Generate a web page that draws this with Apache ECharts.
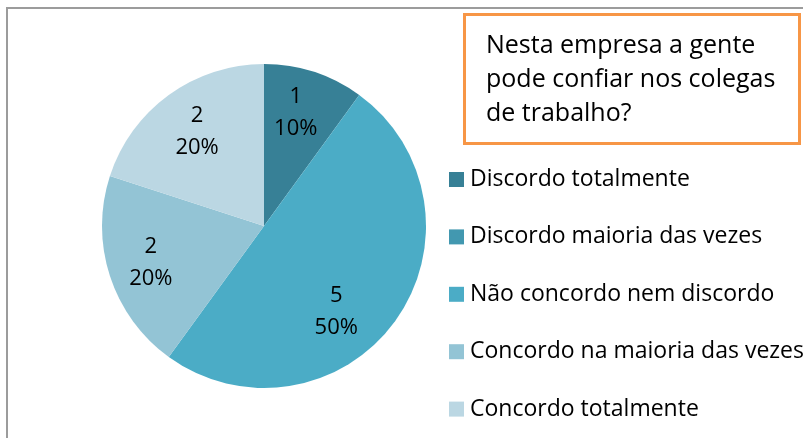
<!DOCTYPE html>
<html><head><meta charset="utf-8">
<script src="https://cdn.jsdelivr.net/npm/echarts@6/dist/echarts.min.js"></script>
<style>html,body{margin:0;padding:0;background:#fff}#c{width:803px;height:438px}</style>
</head><body><div id="c"></div>
<script>
const categories = ["Discordo totalmente","Discordo maioria das vezes","Não concordo nem discordo","Concordo na maioria das vezes","Concordo totalmente"];
const values = [1, 0, 5, 2, 2];
const colors = ["#378096","#4298B0","#4BACC6","#93C4D5","#BBD7E3"];
const boxLines = ["Nesta empresa a gente","pode confiar nos colegas","de trabalho?"];

const FONT = '"Open Sans"';
const total = values.reduce((a,b)=>a+b,0);
const data = categories.map((n,i)=>({name:n, value:values[i], itemStyle:{color:colors[i]}}));

const chart = echarts.init(document.getElementById('c'), null, {renderer:'canvas'});
chart.setOption({
  animation:false,
  backgroundColor:'#fff',
  legend:{
    data: categories,
    orient:'vertical', left:449, top:167.5, padding:0,
    itemWidth:15, itemHeight:15, itemGap:33.4,
    icon:'rect',
    textStyle:{fontFamily:'Open Sans', fontSize:23, color:'#000', lineHeight:24, padding:[0,0,0,1]}
  },
  graphic:[
    {type:'rect', shape:{x:7,y:8,width:900,height:600}, style:{fill:null, stroke:'#9c9c9c', lineWidth:2}, z:0},
    {type:'rect', shape:{x:464.5,y:14.5,width:335,height:129}, style:{fill:'#fff', stroke:'#F79646', lineWidth:3}, z:10},
    {type:'text', left:486, top:29, z:11, style:{text:boxLines.join('\n'), font:'25px '+FONT, fill:'#000', lineHeight:34}}
  ],
  series:[
    {
      type:'pie', center:[264,226], radius:[0,162], startAngle:90, clockwise:true,
      data:data, label:{show:false}, labelLine:{show:false}, silent:true,
      itemStyle:{borderWidth:0}
    },
    {
      type:'pie', center:[264,226], radius:[70,162], startAngle:90, clockwise:true,
      data:categories.map((n,i)=>({name:n, value:values[i]})),
      itemStyle:{color:'rgba(0,0,0,0)'}, silent:true, legendHoverLink:false,
      label:{show:true, position:'inside', fontFamily:'Open Sans', fontSize:22, color:'#000', lineHeight:32,
        formatter:p=> p.value===0 ? '' : p.value + '\n' + Math.round(p.value/total*100) + '%'},
      labelLine:{show:false},
      labelLayout:function(p){ if(p.dataIndex===2) return {dx:-24, dy:16}; if(p.dataIndex===0) return {dx:-5, dy:0}; if(p.dataIndex===4) return {dx:3, dy:2}; return {}; }
    }
  ]
});
</script></body></html>
